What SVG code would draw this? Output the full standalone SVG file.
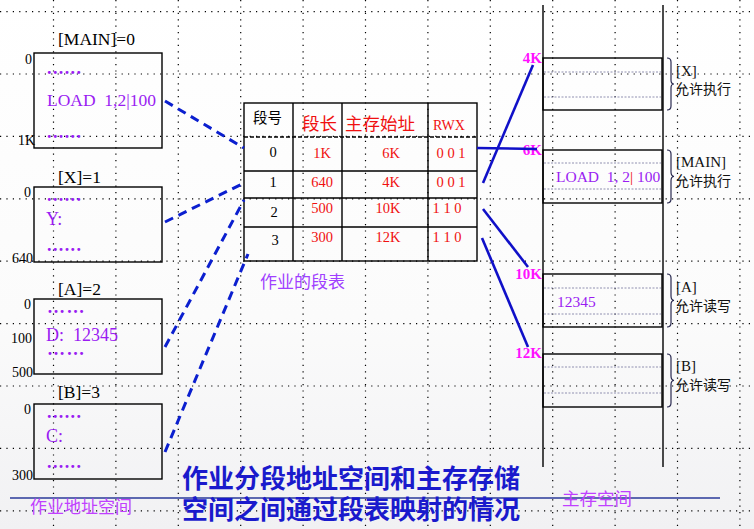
<svg xmlns="http://www.w3.org/2000/svg" width="754" height="529" viewBox="0 0 754 529">
<defs>
<linearGradient id="bg" x1="0" y1="0" x2="0" y2="1">
<stop offset="0" stop-color="#ffffff"/>
<stop offset="0.6" stop-color="#fbfbfb"/>
<stop offset="1" stop-color="#f1f1f3"/>
</linearGradient>
</defs>
<style>
.grid{stroke:#000;stroke-width:1.2;stroke-dasharray:1.2 5.2;fill:none}
.box{fill:none;stroke:#000;stroke-width:1.4}
.ser{font-family:"Liberation Serif","DejaVu Serif",serif}
.cjk{font-family:"Noto Sans CJK SC","Noto Sans",sans-serif}
.lbl{font-size:17.5px;fill:#000}
.ax{font-size:14px;fill:#000}
.pur{fill:#9a1cf2}
.dots{font-size:18px;font-weight:bold;letter-spacing:1.4px;fill:#9a1cf2}
.red{fill:#f01010}
.dash{stroke:#0b1fcf;stroke-width:3;stroke-dasharray:9 6;fill:none}
.solid{stroke:#1010c8;stroke-width:2.6;fill:none}
.inner{stroke:#9090b0;stroke-width:1;stroke-dasharray:2 1.5}
.brace{fill:none;stroke:#2a2a50;stroke-width:1.2}
.mag{fill:#ff10ff;font-size:15px;font-weight:bold}
.rlab{font-size:15px;fill:#111}
.rcj{font-size:14px;fill:#111}
</style>
<rect width="754" height="529" fill="url(#bg)"/>
<g id="grid">
<path class="grid" d="M53.5,0V529M115.9,0V529M178.3,0V529M240.7,0V529M303.1,0V529M365.5,0V529M427.9,0V529M490.3,0V529M552.7,0V529M615.1,0V529M677.5,0V529M739.9,0V529"/>
<path class="grid" d="M0,11.6H754M0,74H754M0,136.4H754M0,198.8H754M0,261.2H754M0,323.6H754M0,386H754M0,448.4H754M0,510.8H754"/>
</g>

<g id="seg-main">
<text class="ser lbl" x="58" y="45">[MAIN]=0</text>
<rect class="box" x="34" y="53" width="128" height="95"/>
<text class="ser ax" x="32" y="64" text-anchor="end">0</text>
<text class="ser ax" x="35" y="145" text-anchor="end">1K</text>
<text class="ser dots" x="47" y="74">......</text>
<text class="ser pur" x="47" y="106" font-size="17.5" xml:space="preserve">LOAD  1,2|100</text>
<text class="ser dots" x="47" y="138">......</text>
</g>

<g id="seg-x">
<text class="ser lbl" x="58" y="183">[X]=1</text>
<rect class="box" x="34" y="187" width="128" height="75"/>
<text class="ser ax" x="31" y="197" text-anchor="end">0</text>
<text class="ser ax" x="33" y="263" text-anchor="end">640</text>
<text class="ser dots" x="47" y="201">......</text>
<text class="ser pur" x="46" y="225" font-size="18">Y:</text>
<text class="ser dots" x="47" y="251">......</text>
</g>

<g id="seg-a">
<text class="ser lbl" x="58" y="295">[A]=2</text>
<rect class="box" x="34" y="299" width="128" height="75"/>
<text class="ser ax" x="31" y="309" text-anchor="end">0</text>
<text class="ser ax" x="32" y="343" text-anchor="end">100</text>
<text class="ser ax" x="33" y="377" text-anchor="end">500</text>
<text class="ser dots" x="47" y="313" font-size="14" font-weight="normal">……</text>
<text class="ser pur" x="46" y="341" font-size="18" xml:space="preserve">D:  12345</text>
<text class="ser dots" x="47" y="355" font-size="14" font-weight="normal">……</text>
</g>

<g id="seg-b">
<text class="ser lbl" x="58" y="398">[B]=3</text>
<rect class="box" x="34" y="404" width="128" height="75"/>
<text class="ser ax" x="31" y="414" text-anchor="end">0</text>
<text class="ser ax" x="33" y="480" text-anchor="end">300</text>
<text class="ser dots" x="47" y="418">......</text>
<text class="ser pur" x="46" y="442" font-size="18">C:</text>
<text class="ser dots" x="47" y="468">......</text>
</g>

<g id="seg-table">
<rect class="box" x="244" y="103" width="233" height="158"/>
<path class="box" d="M293,103V261M342,103V261M428,103V261M244,171H477M244,198H477M244,227H477"/>
<path d="M244,137H477" stroke="#000" stroke-width="1.3" stroke-dasharray="4 2"/>
<text class="cjk" x="253" y="123" font-size="14.5" fill="#000">段号</text>
<text class="cjk red" x="302" y="130" font-size="17.5">段长</text>
<text class="cjk red" x="345" y="130" font-size="17.5">主存始址</text>
<text class="ser red" x="433" y="130" font-size="14">RWX</text>
<g class="ser" font-size="14.5" text-anchor="middle">
<text x="273" y="157" fill="#000">0</text>
<text x="273" y="187" fill="#000">1</text>
<text x="274" y="217" fill="#000">2</text>
<text x="275" y="245" fill="#000">3</text>
<text class="red" x="322" y="158">1K</text>
<text class="red" x="322" y="187">640</text>
<text class="red" x="322" y="213">500</text>
<text class="red" x="322" y="242">300</text>
<text class="red" x="391" y="158">6K</text>
<text class="red" x="391" y="187">4K</text>
<text class="red" x="388" y="213">10K</text>
<text class="red" x="388" y="242">12K</text>
<text class="red" x="451" y="158">0 0 1</text>
<text class="red" x="451" y="187">0 0 1</text>
<text class="red" x="447" y="213">1 1 0</text>
<text class="red" x="447" y="242">1 1 0</text>
</g>
<text class="cjk" x="260" y="288" font-size="17" fill="#a040ff">作业的段表</text>
</g>

<g id="memory">
<path d="M543,5V467M663,5V467" stroke="#000" stroke-width="1.4"/>
<rect class="box" x="543" y="58" width="119" height="52"/>
<path class="inner" d="M544,72H661M544,97H661"/>
<rect class="box" x="543" y="150" width="119" height="53"/>
<path class="inner" d="M544,163H661M544,189H661"/>
<rect class="box" x="543" y="274" width="119" height="53"/>
<path class="inner" d="M544,288H661M544,314H661"/>
<rect class="box" x="543" y="354" width="119" height="53"/>
<path class="inner" d="M544,367H661M544,393H661"/>
<text class="ser mag" x="542" y="63" text-anchor="end">4K</text>
<text class="ser mag" x="542" y="155" text-anchor="end">6K</text>
<text class="ser mag" x="542" y="279" text-anchor="end">10K</text>
<text class="ser mag" x="542" y="358" text-anchor="end">12K</text>
<text class="ser pur" x="556" y="182" font-size="15.5" xml:space="preserve">LOAD  1, 2<tspan fill="#f01010">|</tspan> 100</text>
<text class="ser pur" x="557" y="307" font-size="15.5">12345</text>
</g>

<g id="labels-right">
<path class="brace" d="M667,58q4,0 4,4v18q0,4 3,4q-3,0 -3,4v18q0,4 -4,4"/>
<path class="brace" d="M667,150q4,0 4,4v18q0,4 3,4.5q-3,0 -3,4.5v18q0,4 -4,4"/>
<path class="brace" d="M667,274q4,0 4,4v18q0,4 3,4.5q-3,0 -3,4.5v18q0,4 -4,4"/>
<path class="brace" d="M667,354q4,0 4,4v18q0,4 3,4.5q-3,0 -3,4.5v18q0,4 -4,4"/>
<text class="ser rlab" x="676" y="76">[X]</text>
<text class="cjk rcj" x="675" y="94">允许执行</text>
<text class="ser rlab" x="676" y="167">[MAIN]</text>
<text class="cjk rcj" x="675" y="186">允许执行</text>
<text class="ser rlab" x="676" y="292">[A]</text>
<text class="cjk rcj" x="675" y="311">允许读写</text>
<text class="ser rlab" x="676" y="371">[B]</text>
<text class="cjk rcj" x="675" y="390">允许读写</text>
</g>

<g id="connectors">
<path class="dash" d="M165,101L244,148"/>
<path class="dash" d="M165,222L244,183"/>
<path class="dash" d="M165,347L244,200"/>
<path class="dash" d="M165,452L248,254"/>
<path class="solid" d="M477,148L537,149"/>
<path class="solid" d="M483,183L533,65"/>
<path class="solid" d="M483,209L528,267"/>
<path class="solid" d="M482,238L528,347"/>
</g>

<g id="footer">
<path d="M10,498H720" stroke="#2a3a9a" stroke-width="1.3"/>
<text class="cjk" x="30" y="513" font-size="17" fill="#c040ff">作业地址空间</text>
<text class="cjk" x="562" y="505" font-size="17.5" fill="#c040ff">主存空间</text>
<text class="cjk" x="182" y="488" font-size="26" font-weight="bold" fill="#1a1acc">作业分段地址空间和主存存储</text>
<text class="cjk" x="182" y="519" font-size="26" font-weight="bold" fill="#1a1acc">空间之间通过段表映射的情况</text>
</g>
</svg>
